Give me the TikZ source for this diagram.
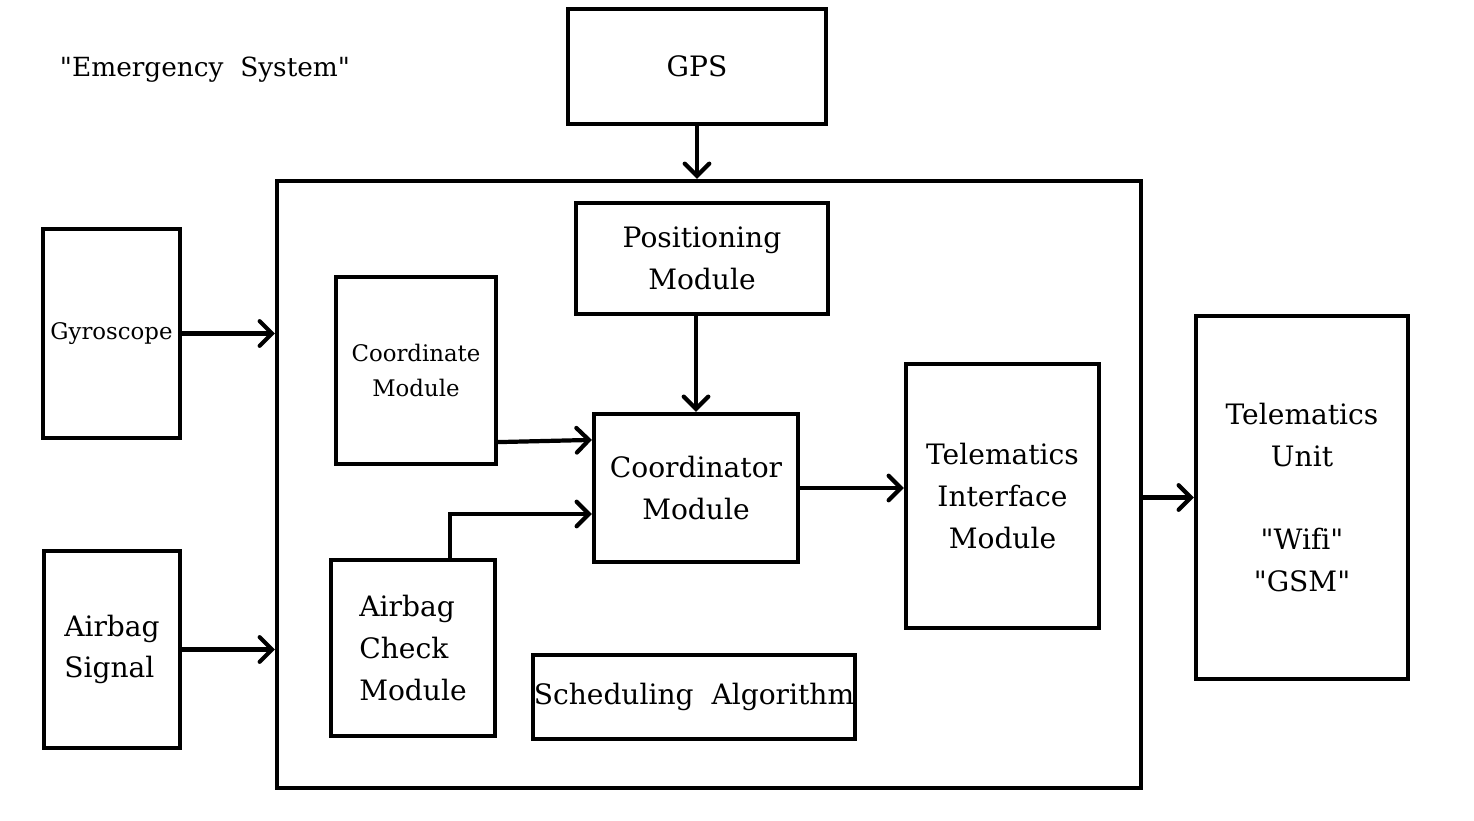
\documentclass[tikz,border=0pt]{standalone}
\usepackage{fontspec}
\setmainfont{DejaVu Serif}[Ligatures={TeXOff,CommonOff}]
\usetikzlibrary{arrows.meta}

\tikzset{
  box/.style={draw,line width=2.4pt,inner sep=0pt,align=center},
  big/.style={font=\fontsize{16}{23.8}\selectfont},
  small/.style={font=\fontsize{13}{20.4}\selectfont},
  flow/.style={line width=2.4pt,line cap=round,-{Straight Barb[length=7pt,width=14pt,line cap=round]}}
}

\begin{document}
\begin{tikzpicture}[x=0.02cm,y=-0.02cm]
    \useasboundingbox (0,0) rectangle (1474,821);

    % title
    \node[font=\fontsize{15}{20}\selectfont] (title) at (205,70) {"Emergency~~System"};

    % outside blocks
    \node[box,big,minimum width=5.16cm,minimum height=2.3cm] (gps) at (697,66.5) {GPS};
    \node[box,minimum width=17.28cm,minimum height=12.14cm] (main) at (709,484.5) {};
    \node[box,small,minimum width=2.74cm,minimum height=4.18cm] (gyro) at (111.5,333.5) {Gyroscope};
    \node[box,big,align=left,minimum width=2.72cm,minimum height=3.94cm] (airbag) at (112,649.5) {Airbag\\Signal};
    \node[box,big,minimum width=4.24cm,minimum height=7.26cm] (unit) at (1302,497.5) {Telematics\\Unit\\[23.8pt]"Wifi"\\"GSM"};

    % inside blocks
    \node[box,big,minimum width=5.04cm,minimum height=2.22cm] (pos) at (702,258.5) {Positioning\\Module};
    \node[box,small,minimum width=3.2cm,minimum height=3.74cm] (coord) at (416,370.5) {Coordinate\\Module};
    \node[box,big,minimum width=4.08cm,minimum height=2.96cm] (coordinator) at (696,488) {Coordinator\\Module};
    \node[box,big,align=left,minimum width=3.28cm,minimum height=3.52cm] (check) at (413,648) {Airbag\\Check\\Module};
    \node[box,big,minimum width=6.44cm,minimum height=1.68cm] (sched) at (694,697) {Scheduling~~Algorithm};
    \node[box,big,minimum width=3.86cm,minimum height=5.28cm] (tim) at (1002.5,496) {Telematics\\Interface\\Module};

    % connections
    \draw[flow] (gps.south) -- (gps.south |- main.north);
    \draw[flow] (gyro.east) -- (gyro.east -| main.west);
    \draw[flow] (airbag.east) -- (airbag.east -| main.west);
    \draw[flow] (coordinator.north |- pos.south) -- (coordinator.north);
    \draw[flow] ([yshift=0.48cm]coord.south east) -- ([yshift=-0.56cm]coordinator.north west);
    \draw[flow] ([xshift=0.74cm]check.north) |- ([yshift=-0.52cm]coordinator.west);
    \draw[flow] (coordinator.east) -- (coordinator.east -| tim.west);
    \draw[flow] (unit.west -| main.east) -- (unit.west);
\end{tikzpicture}
\end{document}
